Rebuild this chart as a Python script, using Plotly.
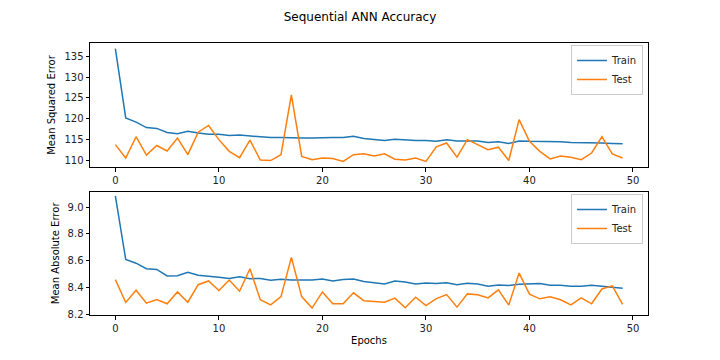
import plotly.graph_objects as go

epochs = list(range(50))

mse_train = [136.8, 120.2, 119.2, 117.9, 117.7, 116.7, 116.4, 117.0, 116.6, 116.3,
             116.3, 116.0, 116.1, 115.9, 115.8, 115.5, 115.5, 115.4, 115.4, 115.4,
             115.5, 115.5, 115.5, 115.8, 115.3, 115.0, 114.8, 115.1, 114.9, 114.8,
             114.8, 114.6, 115.0, 114.7, 114.7, 114.7, 114.3, 114.5, 114.1, 114.7,
             114.6, 114.6, 114.5, 114.5, 114.3, 114.3, 114.3, 114.2, 114.1, 114.0]
mse_test = [113.8, 110.6, 115.7, 111.3, 113.6, 112.3, 115.4, 111.4, 116.8, 118.4,
            115.0, 112.2, 110.7, 114.9, 110.1, 110.0, 111.4, 125.7, 111.0, 110.2,
            110.6, 110.5, 109.8, 111.4, 111.6, 111.1, 111.6, 110.3, 110.1, 110.6,
            109.8, 113.3, 114.2, 110.8, 115.0, 113.8, 112.6, 113.2, 110.0, 119.8,
            114.6, 112.2, 110.4, 111.1, 110.8, 110.2, 111.8, 115.7, 111.6, 110.6]
mae_train = [9.084, 8.609, 8.581, 8.539, 8.534, 8.485, 8.487, 8.512, 8.490, 8.485,
             8.475, 8.467, 8.480, 8.465, 8.467, 8.453, 8.460, 8.455, 8.453, 8.455,
             8.463, 8.448, 8.458, 8.463, 8.443, 8.435, 8.425, 8.448, 8.440, 8.425,
             8.433, 8.428, 8.435, 8.420, 8.430, 8.425, 8.408, 8.418, 8.413, 8.423,
             8.425, 8.428, 8.415, 8.415, 8.408, 8.408, 8.415, 8.406, 8.401, 8.393]
mae_test = [8.458, 8.287, 8.378, 8.282, 8.309, 8.277, 8.366, 8.289, 8.420, 8.448,
            8.376, 8.455, 8.371, 8.539, 8.307, 8.269, 8.331, 8.624, 8.331, 8.245,
            8.366, 8.277, 8.277, 8.359, 8.300, 8.292, 8.289, 8.319, 8.247, 8.326,
            8.264, 8.316, 8.346, 8.252, 8.351, 8.344, 8.321, 8.381, 8.267, 8.507,
            8.349, 8.314, 8.329, 8.307, 8.269, 8.321, 8.277, 8.388, 8.411, 8.272]

x_ticks = [0, 10, 20, 30, 40, 50]
mse_ticks = [110, 115, 120, 125, 130, 135]
mae_ticks = [8.2, 8.4, 8.6, 8.8, 9.0]

BLUE = "#1f77b4"
ORANGE = "#ff7f0e"
FONT = "DejaVu Sans"

# page body has an 8px margin; figure is sized to fit the 720x360 window
OFF = 8
W, H = 720 - OFF, 360 - OFF


def px(x):
    return (x - OFF) / W


def py(y):
    return 1 - (y - OFF) / H


fig = go.Figure()
fig.add_trace(go.Scatter(x=epochs, y=mse_train, mode="lines", name="Train",
                         line=dict(color=BLUE, width=1.5), xaxis="x", yaxis="y", legend="legend"))
fig.add_trace(go.Scatter(x=epochs, y=mse_test, mode="lines", name="Test",
                         line=dict(color=ORANGE, width=1.5), xaxis="x", yaxis="y", legend="legend"))
fig.add_trace(go.Scatter(x=epochs, y=mae_train, mode="lines", name="Train",
                         line=dict(color=BLUE, width=1.5), xaxis="x2", yaxis="y2", legend="legend2"))
fig.add_trace(go.Scatter(x=epochs, y=mae_test, mode="lines", name="Test",
                         line=dict(color=ORANGE, width=1.5), xaxis="x2", yaxis="y2", legend="legend2"))

axis_common = dict(showline=True, linecolor="black", linewidth=1, mirror=True,
                   ticks="outside", ticklen=3.5, tickcolor="black", tickwidth=0.8,
                   showgrid=False, zeroline=False, automargin=False,
                   tickfont=dict(family=FONT, size=10, color="#222"))

legend_common = dict(xanchor="right", yanchor="top", bgcolor="rgba(255,255,255,0.8)",
                     bordercolor="#cccccc", borderwidth=1,
                     font=dict(family=FONT, size=10, color="#222"),
                     itemwidth=30, tracegroupgap=0)

fig.update_layout(
    width=W, height=H,
    margin=dict(l=0, r=0, t=0, b=0, autoexpand=False),
    paper_bgcolor="white", plot_bgcolor="white",
    title=dict(text="Sequential ANN Accuracy", x=px(360), xanchor="center",
               y=1 - 8.5 / H, yanchor="middle",
               font=dict(family=FONT, size=12, color="black")),
    xaxis=dict(domain=[px(90), px(648)], range=[-2.45, 51.45], tickvals=x_ticks,
               anchor="y", **axis_common),
    yaxis=dict(domain=[py(167), py(43)], range=[108.45, 138.15], tickvals=mse_ticks,
               anchor="x",
               title=dict(text="Mean Squared Error", standoff=6,
                          font=dict(family=FONT, size=10, color="black")),
               **axis_common),
    xaxis2=dict(domain=[px(90), px(648)], range=[-2.45, 51.45], tickvals=x_ticks,
                anchor="y2",
                title=dict(text="Epochs", standoff=4, font=dict(family=FONT, size=10, color="black")),
                **axis_common),
    yaxis2=dict(domain=[py(315), py(191.7)], range=[8.193, 9.116], tickvals=mae_ticks,
                tickformat=".1f", anchor="x2",
                title=dict(text="Mean Absolute Error", standoff=6,
                           font=dict(family=FONT, size=10, color="black")),
                **axis_common),
    legend=dict(x=px(643), y=py(45), **legend_common),
    legend2=dict(x=px(643), y=py(194), **legend_common),
)

fig.write_html("out.html")
